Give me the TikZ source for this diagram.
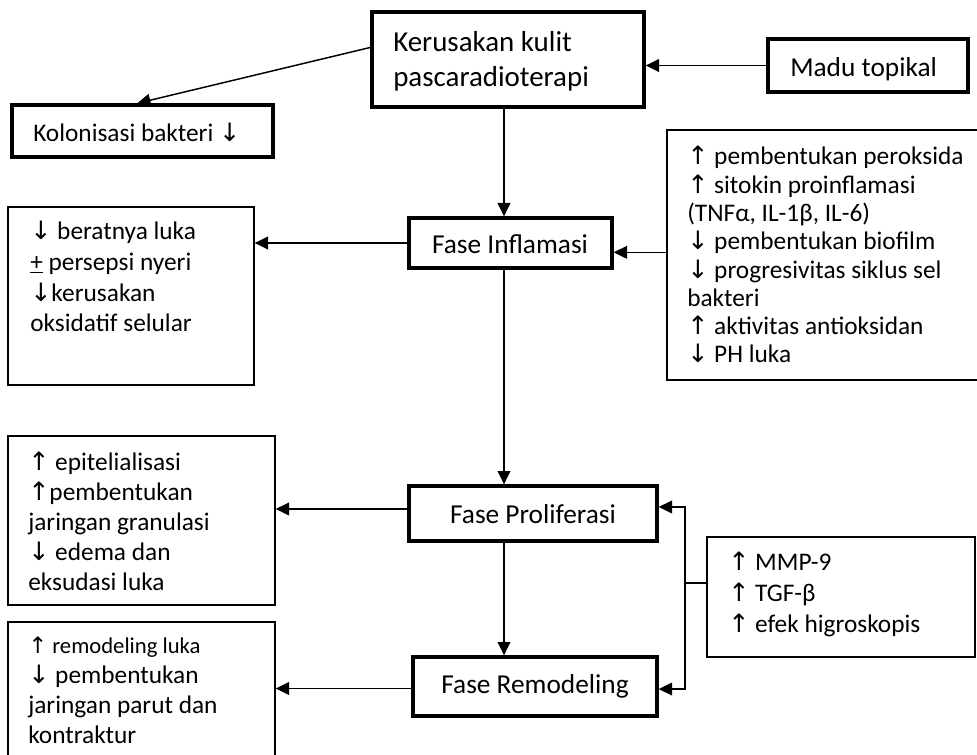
\documentclass[tikz,border=0pt]{standalone}
\usepackage{fontspec}
\setmainfont{Carlito}
\newfontfamily\arrfont{DejaVu Sans}
\usetikzlibrary{arrows.meta,fit}
\newcommand{\uarr}{{\arrfont\char"2191}}
\newcommand{\darr}{{\arrfont\char"2193}}
\tikzset{
  thickbox/.style={draw, line width=2.5pt, inner sep=0pt},
  thinbox/.style={draw, line width=1pt, inner sep=0pt},
  arr/.style={line width=1.1pt, -{Triangle[length=10pt,width=9.5pt]}},
  ln/.style={line width=1.1pt},
  lst/.style={anchor=base west, align=flush left, inner sep=0pt, text width=260pt},
  phase/.style={anchor=base, inner sep=0pt, font=\fontsize{20.5}{24}\selectfont},
}
\begin{document}
\begin{tikzpicture}[x=0.75pt,y=-0.75pt]
\clip (0,0) rectangle (977,755);
% frames
\node[thickbox, fit={(372,12)(644,107)}] (kk) {};
\node[thickbox, fit={(768,39)(968,92)}] (md) {};
\node[thickbox, fit={(12,105)(273,157)}] (kb) {};
\node[thickbox, fit={(409,218)(612,268)}] (fi) {};
\node[thinbox, fit={(667,130)(985,380)}] (rb) {};
\node[thinbox, fit={(8,207)(254,385)}] (lb1) {};
\node[thinbox, fit={(8,436)(275,605)}] (lb2) {};
\node[thinbox, fit={(8,622)(275,770)}] (lb3) {};
\node[thickbox, fit={(409,486)(657,541)}] (fp) {};
\node[thickbox, fit={(413,657)(657,716)}] (fr) {};
\node[thinbox, fit={(707,537)(975,657)}] (sb) {};
% texts
\node[lst, font=\fontsize{21.7}{26.25}\selectfont] (tkk) at (393,52) {Kerusakan kulit\\pascaradioterapi};
\node[anchor=base west, inner sep=0pt, font=\fontsize{20.5}{24}\selectfont] (tmd) at (790,77) {Madu topikal};
\node[anchor=base west, inner sep=0pt, font=\fontsize{19}{22}\selectfont] (tkb) at (33,142) {Kolonisasi bakteri \darr};
\node[phase] (tfi) at (510,254) {Fase Inflamasi};
\node[phase] (tfp) at (533,523) {Fase Proliferasi};
\node[phase] (tfr) at (535,693) {Fase Remodeling};
\node[lst, font=\fontsize{19}{21.2}\selectfont] (trb) at (687,165) {\uarr{} pembentukan peroksida\\
\uarr{} sitokin proinflamasi\\
(TNFα, IL-1β, IL-6)\\
\darr{} pembentukan biofilm\\
\darr{} progresivitas siklus sel\\
bakteri\\
\uarr{} aktivitas antioksidan\\
\darr{} PH luka};
\node[lst, font=\fontsize{19}{22.9}\selectfont] (tlb1) at (30,240) {\darr{} beratnya luka\\
\underline{+} persepsi nyeri\\
\darr kerusakan\\
oksidatif selular};
\node[lst, font=\fontsize{19}{22.5}\selectfont] (tlb2) at (28,470) {\uarr{} epitelialisasi\\
\uarr pembentukan\\
jaringan granulasi\\
\darr{} edema dan\\
eksudasi luka};
\node[lst, font=\fontsize{19}{22.5}\selectfont] (tlb3) at (28,653) {{\fontsize{17}{22.5}\selectfont\uarr{} remodeling luka}\\
\darr{} pembentukan\\
jaringan parut dan\\
kontraktur};
\node[lst, font=\fontsize{19}{23.25}\selectfont] (tsb) at (728,570) {\uarr{} MMP-9\\
\uarr{} TGF-β\\
\uarr{} efek higroskopis};
% helper coordinates
\coordinate (sp) at (504,0);
\coordinate (bx) at (685,0);
\coordinate (c1) at ([yshift=-7pt]fi.east);
\coordinate (c2) at ([yshift=3.4pt]fp.west);
\coordinate (c3) at ([yshift=-1.5pt]fr.west);
\coordinate (c4) at ([yshift=10.5pt]sb.west);
\coordinate (c5) at ([yshift=4.9pt]fp.east);
\coordinate (c6) at ([yshift=-1.9pt]fr.east);
% connectors
\draw[arr] (md.west) -- (md.west -| kk.east);
\draw[arr] (kk.175) -- ([xshift=-4pt]kb.north);
\draw[arr] (kk.south -| sp) -- (fi.north -| sp);
\draw[arr] (c1 -| rb.west) -- (c1);
\draw[arr] (fi.west) -- (fi.west -| lb1.east);
\draw[arr] (fi.south -| sp) -- (fp.north -| sp);
\draw[arr] (c2) -- (c2 -| lb2.east);
\draw[arr] (fp.south -| sp) -- (fr.north -| sp);
\draw[arr] (c3) -- (c3 -| lb3.east);
\draw[arr] (sb.west |- c4) -- (c4 -| bx) |- (c5);
\draw[arr] (c4 -| bx) |- (c6);
\end{tikzpicture}
\end{document}
